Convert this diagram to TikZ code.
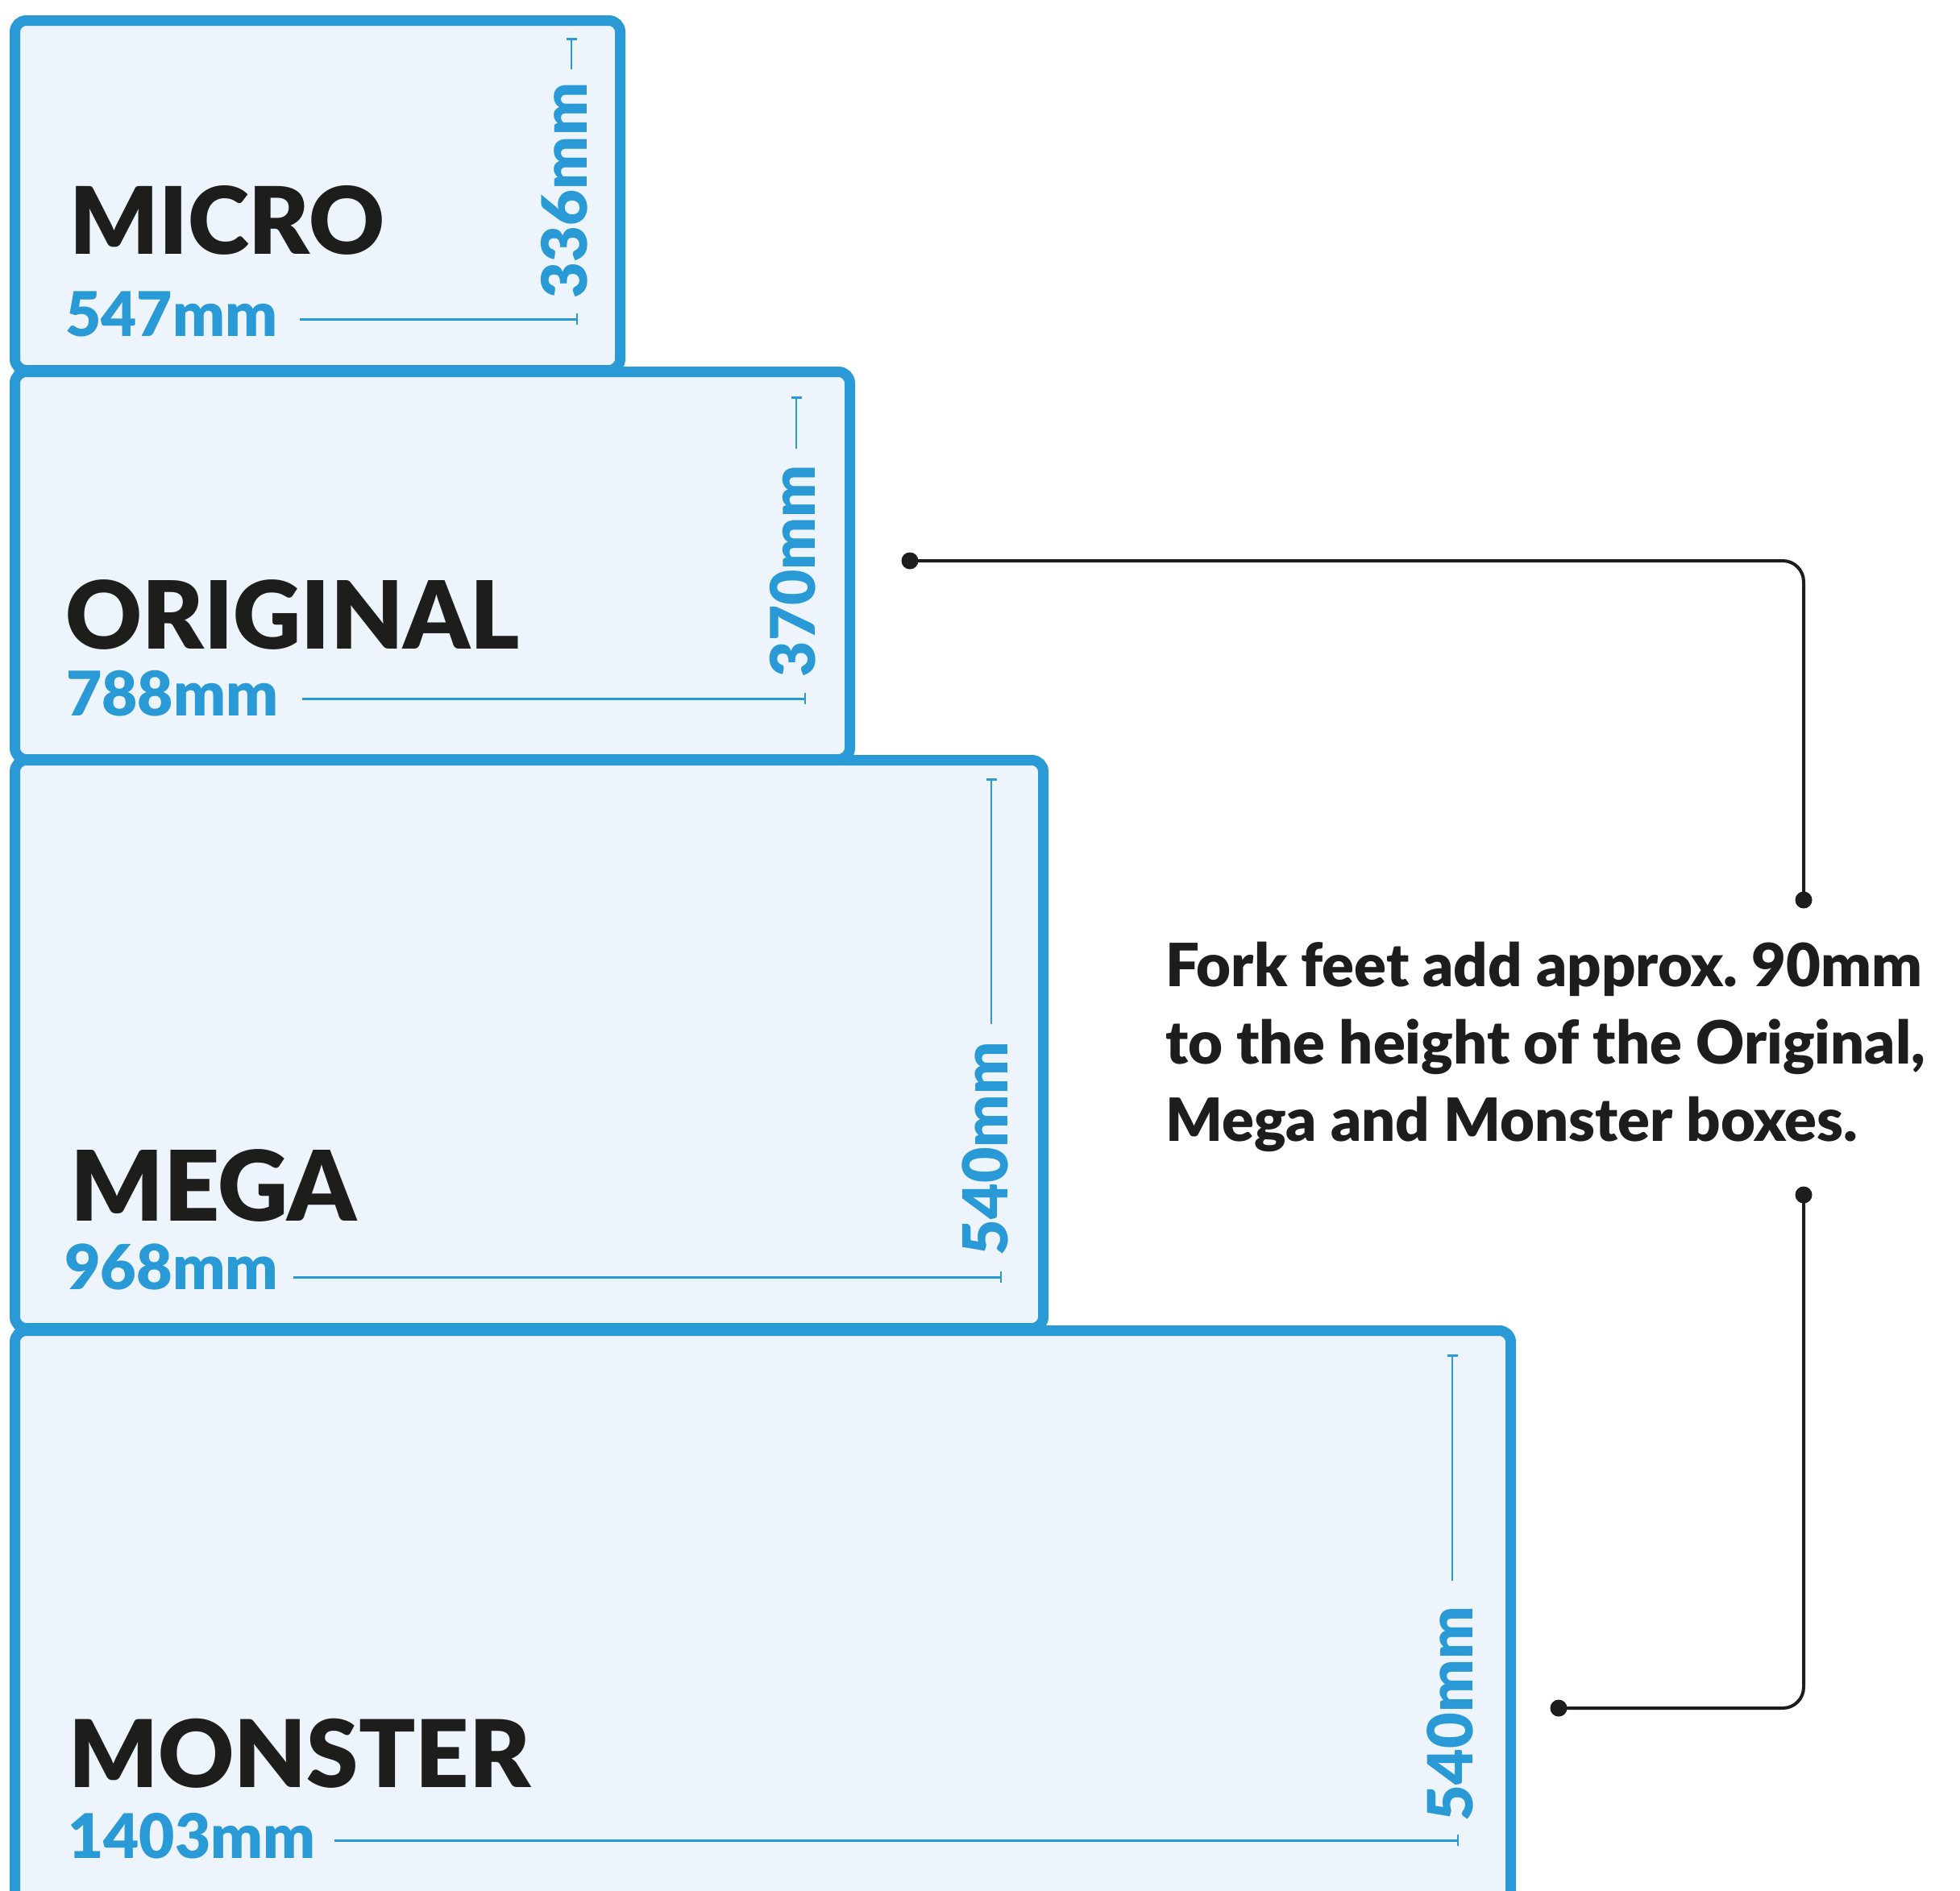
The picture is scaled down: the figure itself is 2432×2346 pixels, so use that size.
\documentclass[tikz,border=0pt]{standalone}
\usepackage{fontspec}
\setmainfont{Lato}
\newfontfamily\heavyfont{Lato Black}
\usetikzlibrary{arrows.meta}
\definecolor{boxblue}{HTML}{2A9AD7}
\definecolor{boxfill}{HTML}{EDF4FC}
\definecolor{ink}{HTML}{1D1D1B}
\newcommand{\fitw}[2]{\resizebox{#1}{!}{\heavyfont #2}}
\begin{document}
\begin{tikzpicture}[x=1pt,y=-1pt,
  sizebox/.style={draw=boxblue, fill=boxfill, line width=13pt, rounded corners=14pt,
    anchor=north west, inner sep=0pt, outer sep=0pt, rectangle},
  title/.style={anchor=base west, inner sep=0pt, text=ink},
  dimtext/.style={anchor=base west, inner sep=0pt, text=boxblue},
  vdimtext/.style={anchor=center, inner sep=0pt, text=boxblue, rotate=90},
  hdim/.style={draw=boxblue, line width=3pt, -{Bar[width=14pt,line width=2.5pt]}},
  vdim/.style={draw=boxblue, line width=2.5pt, {Bar[width=13pt,line width=2.5pt]}-},
  dot/.style={circle, fill=ink, inner sep=0pt, minimum size=21pt},
  callout/.style={draw=ink, line width=4pt, rounded corners=26pt},
  note/.style={anchor=base west, inner sep=0pt, text=ink,
    font=\fontsize{74pt}{90pt}\selectfont\heavyfont\frenchspacing}
]
\useasboundingbox (0,0) rectangle (2432,2346);
\fill[white] (0,0) rectangle (2432,2346);
\clip (0,0) rectangle (2432,2346);

% boxes
\node[sizebox, minimum width=1856pt, minimum height=800pt] (monster) at (18.5,1651.5) {};
\node[sizebox, minimum width=1276pt, minimum height=705pt] (mega) at (18.5,943.5) {};
\node[sizebox, minimum width=1036pt, minimum height=481pt] (original) at (18.5,461.5) {};
\node[sizebox, minimum width=751pt, minimum height=434pt] (micro) at (18.5,25.5) {};

% MICRO
\node[title] (microname) at (86,315) {\fitw{391pt}{MICRO}};
\node[dimtext] (microw) at (81,417) {\fitw{263pt}{547mm}};
\node[vdimtext] (microh) at (700,236.5) {\fitw{267pt}{336mm}};
\coordinate (microwa) at (372,396);
\coordinate (microwb) at (717,396);
\coordinate (microha) at (709,47);
\coordinate (microhb) at (709,86);
\draw[hdim] (microwa) -- (microwb);
\draw[vdim] (microha) -- (microhb);

% ORIGINAL
\node[title] (origname) at (81,805) {\fitw{563pt}{ORIGINAL}};
\node[dimtext] (origw) at (82,888) {\fitw{263pt}{788mm}};
\node[vdimtext] (origh) at (983.5,708.5) {\fitw{263pt}{370mm}};
\coordinate (origwa) at (375,867);
\coordinate (origwb) at (1000,867);
\coordinate (origha) at (988,492);
\coordinate (orighb) at (988,557);
\draw[hdim] (origwa) -- (origwb);
\draw[vdim] (origha) -- (orighb);

% MEGA
\node[title] (meganame) at (87,1515) {\fitw{355pt}{MEGA}};
\node[dimtext] (megaw) at (80,1600) {\fitw{265pt}{968mm}};
\node[vdimtext] (megah) at (1222,1425.5) {\fitw{265pt}{540mm}};
\coordinate (megawa) at (364,1585);
\coordinate (megawb) at (1243,1585);
\coordinate (megaha) at (1230,966);
\coordinate (megahb) at (1230,1271);
\draw[hdim] (megawa) -- (megawb);
\draw[vdim] (megaha) -- (megahb);

% MONSTER
\node[title] (monstername) at (85,2218) {\fitw{573pt}{MONSTER}};
\node[dimtext] (monsterw) at (84,2306) {\fitw{307pt}{1403mm}};
\node[vdimtext] (monsterh) at (1799,2127) {\fitw{266pt}{540mm}};
\coordinate (monsterwa) at (415,2284);
\coordinate (monsterwb) at (1810,2284);
\coordinate (monsterha) at (1802,1681);
\coordinate (monsterhb) at (1802,1962);
\draw[hdim] (monsterwa) -- (monsterwb);
\draw[vdim] (monsterha) -- (monsterhb);

% callouts
\node[dot] (ca) at (1129,696) {};
\node[dot] (cb) at (2238,1117) {};
\node[dot] (cc) at (2238,1483) {};
\node[dot] (cd) at (1934,2120) {};
\draw[callout] (ca.center) -| (cb.center);
\draw[callout] (cc.center) |- (cd.center);

% note
\node[note] (note1) at (1446,1224) {Fork feet add approx. 90mm};
\node[note] (note2) at (1446,1320) {to the height of the Original,};
\node[note] (note3) at (1446,1416) {Mega and Monster boxes.};
\end{tikzpicture}
\end{document}
